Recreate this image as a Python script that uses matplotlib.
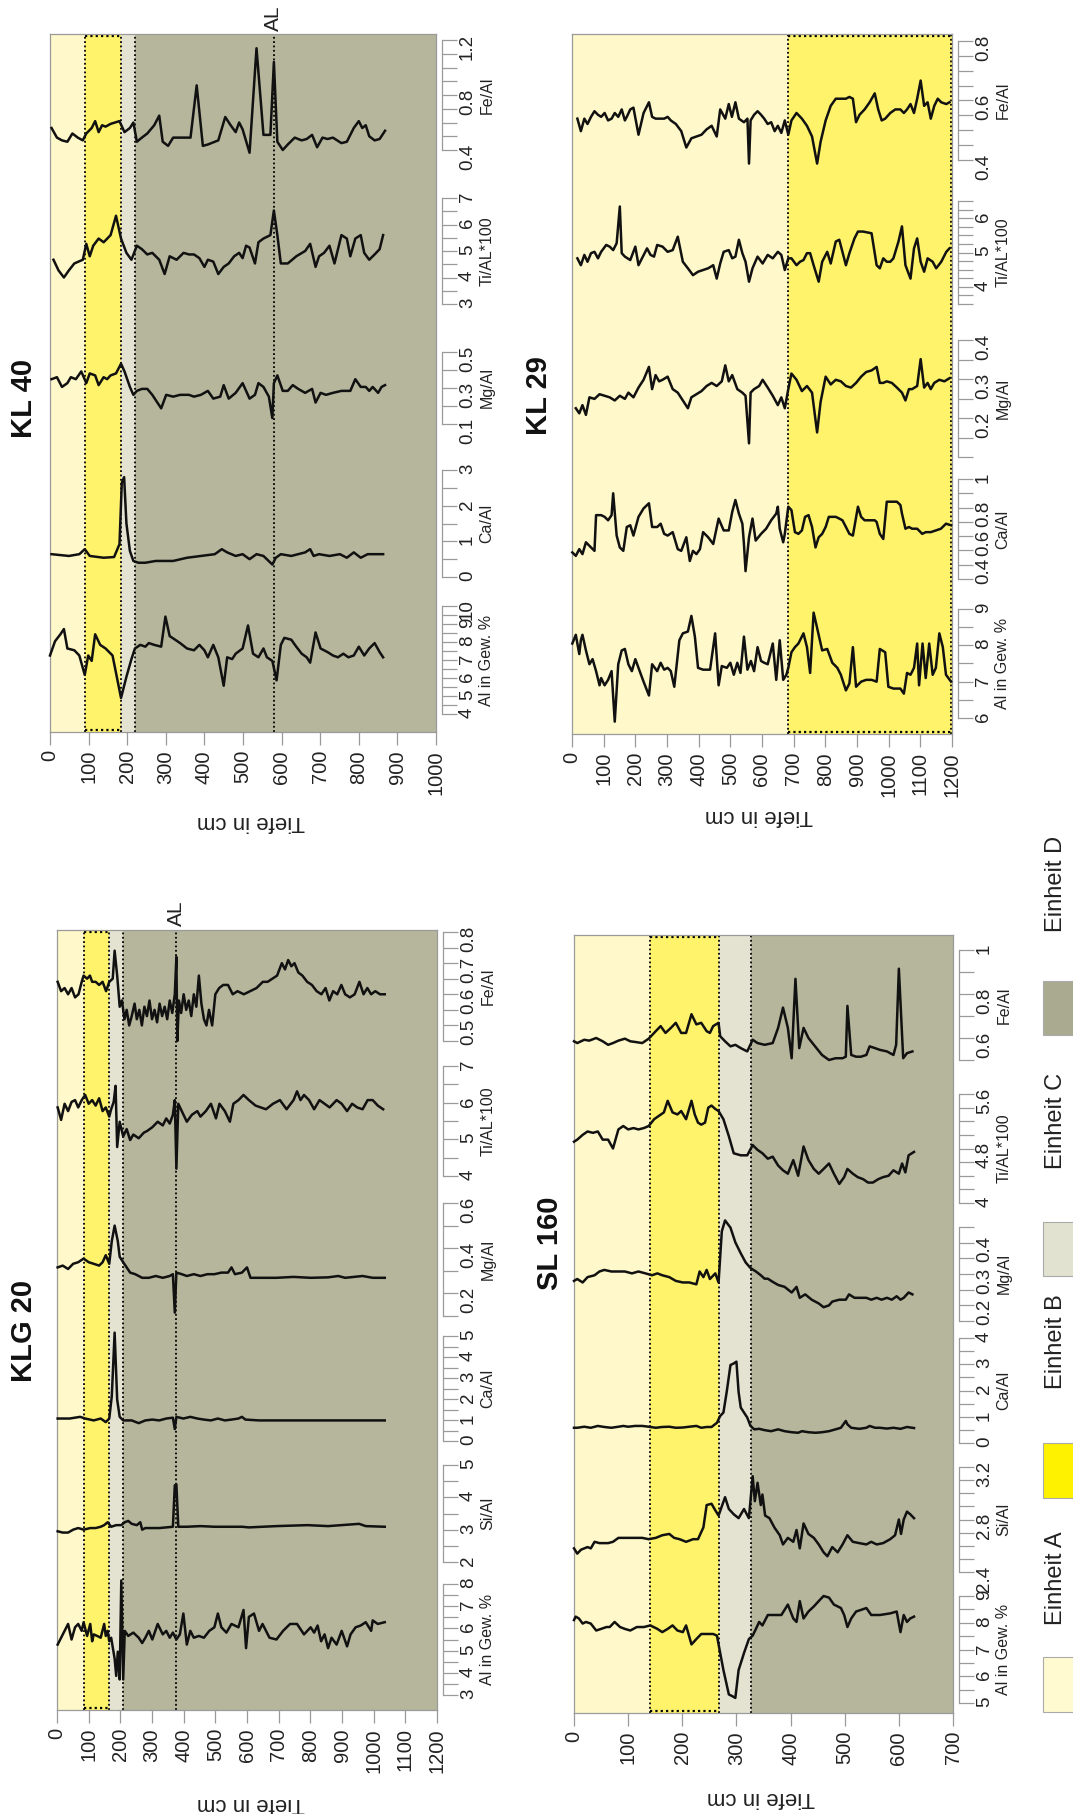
import numpy as np
import matplotlib
matplotlib.use("Agg")
import matplotlib.pyplot as plt
from matplotlib.patches import Rectangle
import matplotlib.transforms as mtransforms

plt.rcParams['font.family'] = ['Liberation Sans', 'DejaVu Sans']

# ---------------- data (depth in cm, value) ----------------
# KL 40
kl40_al = [(0,7.25),(13,8.04),(27,8.43),(36,8.72),(45,7.64),(63,7.54),(76,7.25),(90,6.17),(99,7.25),(108,6.95),
           (117,8.43),(130,7.84),(144,7.64),(162,7.25),(184,4.89),(198,6.07),(211,7.05),(220,7.64),(234,7.84),(247,7.74),
           (256,7.94),(270,7.84),(288,7.74),(299,9.41),(310,8.33),(324,8.13),(337,7.94),(355,7.64),(373,7.54),(387,7.84),
           (400,7.54),(409,7.15),(423,7.84),(436,7.15),(450,5.57),(459,7.15),(472,7.05),(481,7.35),(499,7.64),(513,8.92),
           (526,7.35),(540,7.15),(553,7.64),(562,7.15),(576,6.95),(587,5.87),(598,7.84),(607,8.23),(625,8.13),(638,7.74),
           (652,7.35),(665,7.15),(674,6.85),(688,8.53),(701,7.64),(719,7.44),(733,7.25),(746,7.15),(760,7.35),(773,7.15),
           (787,7.25),(800,7.74),(814,7.25),(827,7.64),(841,7.94),(854,7.44),(863,7.15)]
kl40_ca = [(4,0.64),(49,0.59),(76,0.64),(90,0.78),(103,0.59),(139,0.54),(166,0.56),(180,0.92),(186,2.64),(192,2.8),
           (198,1.5),(207,0.73),(216,0.45),(229,0.4),(247,0.4),(274,0.45),(319,0.45),(355,0.54),(391,0.59),(427,0.64),
           (445,0.78),(459,0.69),(481,0.59),(499,0.64),(517,0.5),(535,0.64),(553,0.59),(576,0.35),(585,0.54),(598,0.64),
           (625,0.59),(643,0.64),(661,0.69),(674,0.78),(683,0.59),(697,0.64),(724,0.59),(751,0.64),(769,0.54),(787,0.69),
           (805,0.54),(823,0.64),(841,0.64),(863,0.64)]
kl40_mg = [(4,0.349),(18,0.36),(31,0.306),(45,0.327),(54,0.36),(67,0.349),(81,0.392),(94,0.327),(103,0.381),(117,0.37),
           (126,0.316),(139,0.36),(148,0.349),(157,0.37),(171,0.381),(184,0.435),(193,0.392),(207,0.306),(216,0.262),(225,0.284),
           (238,0.295),(252,0.295),(265,0.262),(288,0.187),(301,0.262),(319,0.252),(337,0.262),(360,0.262),(373,0.252),(391,0.262),
           (409,0.284),(423,0.241),(441,0.252),(450,0.316),(463,0.241),(481,0.273),(499,0.327),(517,0.241),(531,0.262),(540,0.327),
           (553,0.306),(567,0.252),(576,0.133),(580,0.327),(589,0.37),(603,0.284),(616,0.284),(629,0.316),(643,0.295),(661,0.273),
           (679,0.295),(688,0.219),(701,0.273),(715,0.262),(733,0.273),(755,0.284),(778,0.284),(791,0.349),(805,0.306),(818,0.306),
           (827,0.284),(836,0.306),(850,0.273),(859,0.306),(868,0.316)]
kl40_ti = [(9,4.67),(22,4.27),(36,4.0),(49,4.27),(63,4.53),(85,4.67),(94,5.27),(103,4.8),(112,5.2),(126,5.47),
           (139,5.33),(157,5.6),(171,6.33),(184,5.47),(198,4.93),(211,4.67),(225,5.2),(238,5.07),(252,4.87),(265,4.93),
           (283,4.67),(297,4.13),(310,4.8),(328,4.67),(346,4.93),(360,4.87),(373,4.87),(387,4.73),(400,4.4),(409,4.67),
           (423,4.6),(436,4.13),(450,4.4),(463,4.53),(477,4.8),(490,4.93),(499,4.73),(508,5.2),(517,5.13),(531,4.53),
           (540,5.33),(553,5.47),(571,5.6),(580,6.53),(589,5.6),(598,4.53),(616,4.53),(638,4.8),(661,5.0),(674,5.27),
           (688,4.4),(697,4.8),(710,4.93),(724,5.2),(737,4.53),(755,5.6),(769,5.47),(778,4.8),(791,5.47),(805,5.6),
           (814,4.93),(827,4.67),(841,4.87),(854,5.07),(863,5.6)]
kl40_fe = [(4,0.56),(18,0.49),(31,0.47),(45,0.46),(58,0.52),(72,0.49),(85,0.47),(94,0.52),(108,0.56),(117,0.61),
           (126,0.53),(135,0.58),(144,0.57),(157,0.59),(180,0.61),(193,0.53),(207,0.56),(216,0.60),(225,0.46),(238,0.49),
           (252,0.52),(270,0.58),(283,0.65),(292,0.46),(306,0.43),(319,0.49),(364,0.49),(380,0.87),(396,0.43),(409,0.44),
           (436,0.47),(454,0.64),(468,0.58),(481,0.53),(490,0.60),(499,0.55),(517,0.38),(535,1.14),(553,0.51),(571,0.51),
           (580,1.04),(589,0.46),(603,0.40),(616,0.44),(634,0.49),(652,0.47),(665,0.48),(679,0.51),(692,0.42),(706,0.49),
           (719,0.48),(733,0.49),(755,0.45),(769,0.46),(787,0.56),(800,0.61),(809,0.56),(818,0.58),(827,0.50),(841,0.47),
           (854,0.48),(868,0.54)]

# KLG 20
klg20_al = [(2,5.27),(13,5.58),(24,5.89),(35,6.2),(46,5.5),(57,6.05),(67,6.2),(78,5.89),(84,6.28),(95,5.66),
            (105,6.2),(111,5.42),(116,5.73),(127,5.66),(138,5.58),(149,6.2),(154,5.66),(160,5.89),(165,5.42),(171,5.58),
            (182,4.64),(187,3.86),(192,4.95),(198,3.7),(203,8.16),(209,3.7),(214,5.89),(225,5.66),(241,5.81),(258,5.58),
            (269,5.34),(279,5.58),(290,5.89),(301,5.5),(318,6.2),(334,5.73),(345,5.89),(356,5.58),(366,5.81),(377,5.5),
            (388,5.73),(399,6.67),(410,5.27),(421,5.89),(432,5.58),(448,5.66),(464,5.58),(481,5.89),(497,6.05),(508,6.67),
            (519,6.05),(535,5.81),(551,6.2),(573,6.05),(589,6.83),(597,5.11),(606,6.52),(622,6.67),(638,5.89),(649,6.2),
            (671,5.58),(693,5.5),(714,5.89),(736,6.2),(758,6.2),(780,5.73),(801,6.05),(812,5.81),(823,6.13),(834,5.42),
            (845,5.73),(856,5.11),(867,5.58),(883,5.27),(899,5.89),(916,5.19),(927,5.73),(943,6.05),(959,6.13),(975,6.28),
            (992,5.89),(997,6.36),(1013,6.2),(1035,6.28)]
klg20_si = [(2,2.95),(18,2.91),(35,2.91),(51,3.0),(67,3.05),(84,3.0),(105,3.05),(122,3.05),(138,3.09),(149,3.14),
            (160,3.23),(171,3.09),(187,3.14),(203,3.14),(214,3.23),(225,3.27),(236,3.18),(252,3.14),(263,3.23),(269,3.0),
            (279,3.05),(301,3.05),(323,3.05),(345,3.07),(366,3.09),(372,4.37),(377,4.4),(383,3.09),(410,3.09),(453,3.11),
            (497,3.09),(584,3.09),(606,3.07),(693,3.11),(791,3.14),(856,3.11),(954,3.18),(975,3.11),(1035,3.09)]
klg20_ca = [(2,1.07),(40,1.07),(73,1.15),(89,1.07),(116,0.98),(138,1.07),(154,0.9),(165,1.07),(173,2.13),(182,5.16),
            (190,1.97),(198,1.15),(209,0.98),(236,0.98),(258,0.85),(279,0.98),(301,1.02),(323,0.98),(345,1.07),(366,1.11),
            (372,0.57),(377,1.15),(399,1.07),(421,1.15),(443,1.07),(464,1.02),(486,0.98),(508,1.07),(530,0.98),(551,1.02),
            (573,1.07),(584,1.15),(595,1.02),(638,0.98),(693,0.98),(801,0.98),(910,0.98),(1035,0.98)]
klg20_mg = [(2,0.315),(18,0.323),(35,0.308),(51,0.331),(67,0.338),(84,0.354),(100,0.338),(116,0.331),(133,0.323),(144,0.338),
            (154,0.369),(165,0.331),(173,0.431),(182,0.5),(192,0.431),(198,0.362),(209,0.338),(220,0.315),(231,0.292),(247,0.285),
            (269,0.269),(290,0.269),(312,0.277),(334,0.269),(356,0.277),(366,0.285),(372,0.115),(377,0.292),(394,0.285),(410,0.277),
            (432,0.285),(453,0.277),(475,0.285),(497,0.285),(519,0.292),(540,0.292),(551,0.315),(562,0.285),(584,0.292),(600,0.315),
            (611,0.269),(638,0.269),(693,0.269),(747,0.273),(801,0.269),(856,0.271),(888,0.277),(910,0.269),(965,0.277),(997,0.269),
            (1035,0.269)]
klg20_ti = [(2,5.87),(13,5.53),(24,5.97),(35,5.77),(46,6.02),(57,6.07),(67,5.87),(78,6.07),(89,6.21),(100,5.97),
            (111,6.07),(122,5.92),(133,6.12),(144,5.77),(154,5.87),(165,5.62),(171,5.82),(179,6.02),(185,6.46),(190,4.79),
            (198,5.48),(209,5.08),(220,5.28),(231,4.98),(241,5.13),(258,5.03),(274,5.18),(285,5.23),(301,5.33),(318,5.48),
            (334,5.38),(345,5.57),(356,5.43),(366,5.67),(372,6.07),(377,4.2),(383,5.97),(394,5.77),(410,5.48),(426,5.67),
            (443,5.77),(453,5.62),(470,5.77),(486,5.97),(502,5.57),(513,5.97),(530,5.77),(546,5.48),(557,5.97),(573,6.07),
            (589,6.21),(606,6.07),(627,5.92),(660,5.82),(682,5.97),(704,6.07),(725,5.82),(747,6.07),(758,6.31),(769,6.07),
            (780,6.21),(796,6.07),(812,5.82),(829,6.07),(845,5.97),(861,5.87),(883,6.07),(899,5.97),(916,5.77),(932,5.97),
            (948,5.87),(965,5.82),(981,6.07),(997,6.07),(1013,5.92),(1030,5.82)]
klg20_fe = [(2,0.64),(13,0.61),(24,0.62),(35,0.6),(46,0.62),(57,0.59),(68,0.6),(78,0.64),(84,0.66),(95,0.65),
            (104,0.66),(111,0.64),(122,0.64),(133,0.63),(144,0.64),(155,0.61),(165,0.64),(176,0.65),(182,0.74),(190,0.66),
            (198,0.56),(205,0.58),(213,0.52),(220,0.55),(228,0.5),(236,0.53),(245,0.57),(252,0.52),(260,0.55),(268,0.5),
            (276,0.56),(284,0.53),(292,0.58),(300,0.52),(308,0.55),(316,0.51),(324,0.57),(332,0.53),(340,0.56),(348,0.52),
            (356,0.58),(364,0.54),(372,0.6),(377,0.72),(380,0.45),(385,0.58),(392,0.54),(400,0.6),(408,0.55),(416,0.58),
            (424,0.53),(432,0.6),(440,0.56),(448,0.66),(456,0.57),(464,0.52),(472,0.5),(480,0.55),(490,0.5),(500,0.6),
            (512,0.62),(525,0.63),(540,0.63),(555,0.6),(570,0.61),(590,0.6),(610,0.61),(630,0.62),(650,0.64),(665,0.64),
            (680,0.65),(695,0.66),(710,0.7),(720,0.68),(730,0.71),(740,0.69),(750,0.7),(762,0.67),(775,0.66),(790,0.64),
            (805,0.63),(820,0.61),(835,0.6),(848,0.62),(860,0.58),(872,0.61),(885,0.6),(898,0.63),(910,0.6),(925,0.59),
            (940,0.6),(955,0.64),(968,0.6),(980,0.62),(992,0.6),(1005,0.61),(1020,0.6),(1035,0.6)]

# KL 29
kl29_al = [(1,8.05),(12,8.29),(23,7.76),(28,8.14),(33,8.29),(44,7.86),(55,7.48),(65,7.62),(76,7.29),(87,6.9),
           (92,7.1),(103,6.9),(114,7.05),(125,7.29),(135,5.9),(146,7.48),(157,7.86),(167,7.9),(178,7.48),(189,7.29),
           (200,7.62),(210,7.38),(226,7.0),(243,6.62),(253,7.48),(269,7.29),(280,7.52),(291,7.33),(302,7.38),(312,7.29),
           (323,6.86),(339,8.14),(350,8.33),(366,8.38),(377,8.81),(388,8.24),(398,7.38),(414,7.33),(436,7.33),(452,8.33),
           (463,6.9),(473,7.43),(489,7.38),(500,7.52),(511,7.19),(522,7.52),(532,7.24),(543,8.24),(554,7.33),(565,7.57),
           (575,7.29),(586,7.95),(597,7.57),(607,7.52),(618,7.48),(634,8.05),(645,7.05),(656,8.14),(667,7.05),(677,7.19),
           (683,7.38),(693,7.81),(704,7.95),(715,8.05),(731,8.33),(742,7.95),(752,7.24),(763,8.9),(774,8.48),(790,7.86),
           (806,7.9),(822,7.52),(838,7.38),(849,7.19),(865,6.76),(876,6.95),(887,7.95),(897,6.86),(913,7.0),(929,7.05),
           (946,7.05),(962,7.0),(972,7.9),(989,7.81),(999,6.86),(1015,6.81),(1037,6.81),(1048,6.67),(1058,7.24),(1069,7.19),
           (1080,7.38),(1090,8.05),(1096,6.9),(1107,8.05),(1117,7.1),(1128,8.05),(1139,7.19),(1149,7.38),(1160,8.33),(1171,7.95),
           (1181,7.19),(1197,7.0)]
kl29_ca = [(1,0.486),(12,0.462),(23,0.509),(33,0.474),(44,0.557),(60,0.521),(71,0.497),(76,0.747),(92,0.747),(103,0.735),
           (114,0.711),(125,0.747),(130,0.9),(141,0.604),(151,0.521),(162,0.497),(173,0.664),(184,0.676),(194,0.604),(210,0.735),
           (226,0.794),(243,0.83),(253,0.664),(269,0.664),(280,0.687),(291,0.616),(302,0.604),(318,0.628),(334,0.509),(345,0.497),
           (361,0.592),(372,0.426),(382,0.497),(393,0.474),(404,0.509),(414,0.628),(430,0.592),(446,0.545),(463,0.723),(479,0.64),
           (495,0.64),(506,0.77),(516,0.853),(527,0.758),(538,0.687),(543,0.545),(548,0.355),(559,0.592),(570,0.723),(580,0.569),
           (597,0.616),(613,0.652),(629,0.711),(645,0.758),(650,0.806),(656,0.652),(667,0.557),(672,0.616),(683,0.806),(693,0.782),
           (704,0.628),(715,0.616),(726,0.64),(736,0.735),(747,0.747),(758,0.664),(769,0.521),(779,0.592),(790,0.616),(801,0.664),
           (811,0.735),(822,0.735),(833,0.735),(844,0.723),(854,0.711),(865,0.664),(876,0.616),(887,0.604),(903,0.806),(913,0.735),
           (924,0.711),(940,0.711),(956,0.711),(962,0.699),(972,0.616),(983,0.58),(994,0.841),(1010,0.841),(1026,0.841),(1037,0.818),
           (1042,0.758),(1053,0.652),(1064,0.664),(1074,0.652),(1090,0.652),(1106,0.616),(1117,0.628),(1133,0.628),(1149,0.64),(1165,0.652),
           (1181,0.687),(1197,0.676)]
kl29_mg = [(12,0.225),(23,0.212),(33,0.233),(44,0.208),(55,0.253),(71,0.249),(87,0.261),(103,0.257),(119,0.253),(135,0.245),
           (151,0.257),(167,0.249),(178,0.265),(194,0.253),(210,0.278),(226,0.298),(243,0.331),(253,0.274),(264,0.31),(275,0.294),
           (286,0.298),(302,0.306),(318,0.274),(334,0.265),(350,0.245),(366,0.225),(377,0.253),(393,0.261),(409,0.269),(425,0.282),
           (441,0.29),(457,0.282),(473,0.294),(484,0.335),(495,0.294),(506,0.31),(522,0.274),(538,0.265),(548,0.257),(559,0.135),
           (564,0.265),(575,0.274),(591,0.282),(602,0.298),(618,0.278),(634,0.257),(650,0.233),(661,0.253),(672,0.225),(683,0.274),
           (693,0.314),(709,0.298),(726,0.269),(742,0.282),(758,0.265),(774,0.163),(785,0.241),(801,0.306),(817,0.286),(833,0.298),
           (849,0.294),(865,0.282),(881,0.278),(897,0.29),(913,0.306),(929,0.318),(946,0.322),(962,0.331),(972,0.29),(983,0.29),
           (994,0.294),(1010,0.29),(1026,0.278),(1042,0.265),(1053,0.245),(1064,0.274),(1074,0.274),(1090,0.282),(1101,0.351),(1112,0.278),
           (1123,0.29),(1133,0.274),(1144,0.29),(1160,0.298),(1176,0.294),(1192,0.302)]
kl29_ti = [(17,4.83),(28,4.63),(39,4.93),(49,4.73),(60,4.98),(71,5.02),(82,4.83),(92,5.02),(108,5.22),(119,5.17),
           (130,5.07),(141,5.27),(151,6.34),(157,4.98),(167,4.88),(184,4.78),(200,5.17),(210,4.63),(221,4.83),(237,5.12),
           (248,4.93),(259,4.88),(269,5.22),(286,5.17),(302,5.02),(318,5.07),(334,5.46),(350,4.73),(366,4.54),(382,4.34),
           (398,4.44),(414,4.49),(430,4.54),(446,4.63),(457,4.24),(468,4.68),(479,5.02),(495,5.07),(506,4.83),(516,4.88),
           (527,5.37),(538,4.98),(548,4.73),(559,4.15),(570,4.54),(586,4.88),(602,4.68),(618,4.93),(634,4.83),(650,5.02),
           (661,4.93),(672,4.49),(683,4.83),(693,4.83),(709,4.63),(720,4.73),(731,4.78),(742,4.98),(752,4.98),(763,4.63),
           (779,4.15),(790,4.73),(806,5.02),(817,4.68),(833,5.32),(844,5.37),(854,5.02),(865,4.63),(876,4.98),(892,5.41),
           (903,5.61),(919,5.61),(946,5.56),(962,4.63),(972,4.54),(983,4.83),(994,4.73),(1005,4.73),(1015,4.83),(1031,5.32),
           (1042,5.76),(1053,4.63),(1069,4.24),(1080,5.12),(1090,5.41),(1101,4.73),(1112,4.44),(1123,4.83),(1139,4.73),(1150,4.54),
           (1166,4.73),(1182,5.02),(1192,5.12)]
kl29_fe = [(17,0.539),(28,0.497),(39,0.539),(49,0.521),(60,0.545),(71,0.564),(82,0.552),(92,0.545),(103,0.558),(114,0.533),
           (125,0.539),(135,0.558),(146,0.545),(157,0.570),(167,0.533),(173,0.545),(184,0.570),(194,0.576),(210,0.485),(226,0.558),
           (243,0.594),(253,0.545),(264,0.539),(275,0.539),(291,0.539),(302,0.545),(312,0.533),(328,0.521),(345,0.497),(361,0.442),
           (377,0.473),(393,0.479),(409,0.485),(425,0.503),(441,0.515),(457,0.479),(468,0.570),(484,0.539),(495,0.588),(505,0.545),
           (516,0.594),(527,0.539),(543,0.527),(554,0.539),(559,0.388),(564,0.533),(575,0.552),(586,0.564),(597,0.552),(607,0.539),
           (618,0.521),(629,0.527),(640,0.497),(650,0.515),(661,0.491),(672,0.533),(683,0.485),(693,0.533),(709,0.558),(726,0.539),
           (742,0.515),(758,0.479),(774,0.388),(785,0.461),(801,0.533),(817,0.582),(833,0.606),(849,0.606),(865,0.606),(876,0.612),
           (887,0.606),(897,0.527),(908,0.552),(924,0.570),(940,0.594),(956,0.624),(967,0.570),(978,0.533),(989,0.539),(1005,0.558),
           (1021,0.570),(1037,0.570),(1048,0.558),(1058,0.570),(1069,0.588),(1080,0.558),(1090,0.606),(1101,0.667),(1112,0.582),(1123,0.594),
           (1133,0.539),(1144,0.582),(1155,0.606),(1166,0.594),(1182,0.588),(1192,0.594)]

# SL 160
sl160_al = [(0,8.1),(3,8.23),(9,8.16),(16,7.97),(22,8.03),(31,7.97),(41,7.71),(50,7.77),(60,7.84),(66,7.84),
            (75,8.03),(85,7.84),(94,7.77),(104,7.71),(116,7.84),(129,7.84),(141,7.9),(154,7.77),(163,7.65),(173,7.77),
            (182,7.9),(191,7.71),(201,7.65),(207,7.9),(217,7.19),(226,7.39),(235,7.58),(245,7.58),(257,7.58),(264,7.52),
            (270,6.87),(276,6.23),(286,5.32),(292,5.26),(298,5.19),(304,6.23),(314,6.87),(323,7.39),(330,7.52),(336,7.77),
            (342,8.03),(348,7.9),(358,8.29),(370,8.29),(383,8.29),(395,8.68),(405,8.16),(411,8.03),(417,8.81),(424,8.16),
            (433,8.42),(443,8.61),(452,8.81),(461,9.0),(471,8.94),(480,8.68),(493,8.55),(499,8.29),(505,7.84),(512,8.16),
            (521,8.42),(530,8.48),(540,8.55),(549,8.29),(565,8.29),(584,8.35),(596,8.42),(603,7.65),(609,8.29),(615,8.03),
            (621,8.16),(628,8.23)]
sl160_si = [(0,2.58),(6,2.54),(13,2.57),(19,2.58),(25,2.59),(31,2.58),(38,2.63),(47,2.62),(56,2.62),(63,2.62),
            (72,2.63),(82,2.66),(91,2.66),(100,2.66),(113,2.66),(126,2.66),(138,2.65),(151,2.66),(163,2.68),(176,2.69),
            (185,2.66),(195,2.65),(207,2.63),(220,2.65),(229,2.65),(239,2.74),(245,2.91),(254,2.92),(261,2.87),(267,2.83),
            (273,2.9),(279,2.97),(286,2.88),(295,2.84),(304,2.81),(314,2.88),(323,2.81),(330,3.13),(334,2.94),(339,3.08),
            (345,2.91),(348,2.99),(353,2.83),(361,2.81),(370,2.74),(380,2.68),(386,2.61),(395,2.66),(405,2.63),(411,2.72),
            (417,2.58),(424,2.77),(433,2.69),(443,2.66),(452,2.61),(461,2.55),(468,2.52),(477,2.59),(487,2.55),(496,2.61),
            (505,2.68),(515,2.63),(527,2.62),(540,2.61),(549,2.63),(559,2.61),(571,2.62),(584,2.65),(593,2.68),(600,2.8),
            (604,2.69),(609,2.8),(615,2.86),(621,2.84),(628,2.81)]
sl160_ca = [(0,0.58),(6,0.58),(19,0.62),(31,0.58),(44,0.65),(56,0.61),(69,0.58),(82,0.62),(91,0.65),(100,0.62),
            (113,0.65),(126,0.65),(138,0.62),(151,0.58),(163,0.61),(176,0.62),(188,0.58),(201,0.59),(213,0.62),(226,0.65),
            (235,0.58),(245,0.61),(254,0.61),(264,0.77),(270,1.03),(276,1.16),(282,1.94),(289,2.97),(295,3.03),(300,3.1),
            (304,1.94),(308,1.35),(314,1.16),(320,0.97),(326,0.65),(333,0.52),(342,0.54),(352,0.49),(364,0.45),(377,0.52),
            (389,0.45),(402,0.41),(414,0.39),(421,0.45),(433,0.41),(446,0.39),(458,0.41),(471,0.45),(483,0.52),(493,0.58),
            (502,0.84),(505,0.71),(512,0.58),(527,0.54),(540,0.58),(546,0.65),(556,0.58),(565,0.58),(578,0.55),(590,0.58),
            (603,0.54),(615,0.61),(628,0.57)]
sl160_mg = [(0,0.278),(6,0.284),(16,0.273),(25,0.29),(38,0.296),(47,0.308),(56,0.313),(69,0.308),(82,0.308),(94,0.308),
            (107,0.302),(119,0.308),(132,0.302),(144,0.296),(154,0.302),(163,0.296),(176,0.29),(188,0.278),(201,0.273),(213,0.273),
            (226,0.267),(232,0.308),(239,0.29),(245,0.313),(251,0.284),(261,0.302),(267,0.273),(273,0.436),(279,0.471),(289,0.448),
            (298,0.401),(308,0.366),(317,0.337),(326,0.319),(336,0.308),(345,0.296),(352,0.285),(358,0.285),(367,0.275),(377,0.265),
            (389,0.259),(402,0.241),(411,0.259),(417,0.224),(427,0.235),(439,0.218),(452,0.206),(461,0.194),(471,0.2),(477,0.212),
            (490,0.218),(502,0.218),(508,0.235),(518,0.224),(527,0.224),(540,0.224),(549,0.218),(559,0.224),(568,0.218),(578,0.224),
            (587,0.218),(596,0.229),(603,0.218),(609,0.224),(618,0.241),(625,0.235)]
sl160_ti = [(0,4.9),(6,4.93),(16,5.0),(25,5.05),(35,5.03),(44,5.05),(53,4.93),(63,4.93),(72,4.8),(82,5.08),
            (91,5.13),(100,5.08),(110,5.1),(119,5.08),(129,5.1),(138,5.13),(148,5.23),(157,5.28),(166,5.33),(173,5.5),
            (182,5.33),(191,5.3),(198,5.35),(207,5.23),(217,5.5),(223,5.3),(229,5.18),(235,5.15),(242,5.18),(248,5.4),
            (254,5.43),(261,5.38),(267,5.35),(276,5.23),(286,4.98),(295,4.73),(308,4.7),(320,4.7),(330,4.85),(339,4.78),
            (348,4.73),(358,4.65),(367,4.68),(377,4.55),(386,4.48),(395,4.43),(405,4.63),(414,4.4),(424,4.83),(433,4.63),
            (443,4.5),(452,4.43),(461,4.5),(471,4.58),(480,4.43),(490,4.28),(499,4.38),(505,4.5),(515,4.43),(524,4.38),
            (534,4.35),(543,4.3),(552,4.3),(562,4.35),(571,4.38),(581,4.4),(590,4.48),(600,4.43),(606,4.58),(612,4.45),
            (618,4.7),(628,4.75)]
sl160_fe = [(0,0.585),(6,0.577),(19,0.592),(28,0.588),(41,0.6),(53,0.585),(63,0.569),(72,0.577),(82,0.588),(94,0.597),
            (104,0.585),(113,0.582),(126,0.577),(138,0.597),(151,0.631),(160,0.654),(169,0.623),(179,0.646),(188,0.669),(198,0.623),
            (207,0.623),(217,0.708),(226,0.662),(235,0.669),(245,0.631),(251,0.623),(257,0.654),(267,0.669),(270,0.608),(279,0.585),
            (289,0.562),(298,0.569),(308,0.554),(320,0.539),(330,0.592),(339,0.577),(352,0.569),(367,0.577),(377,0.646),(386,0.738),
            (395,0.646),(402,0.508),(409,0.869),(416,0.554),(424,0.646),(433,0.6),(443,0.569),(458,0.523),(471,0.5),(483,0.508),
            (496,0.508),(502,0.515),(505,0.746),(512,0.523),(521,0.515),(530,0.515),(540,0.523),(546,0.562),(556,0.554),(565,0.546),
            (578,0.539),(590,0.523),(595,0.569),(600,0.915),(608,0.508),(615,0.531),(625,0.539)]

# unit boundaries (cm) and "AL" marker
kl40_units = [0, 90, 184, 220, 1000]
klg20_units = [0, 84, 165, 209, 1200]
kl29_units = [0, 683, 1200]
sl160_units = [0, 141, 268, 326, 700]
kl40_al_line = 580
klg20_al_line = 377

unit_names = ['Einheit A', 'Einheit B', 'Einheit C', 'Einheit D']
unit_colors = ['#FFF8CA', '#FFF36C', '#E4E3D2', '#B5B69C']
legend_colors = ['#FFFACF', '#FFF200', '#E2E2D0', '#A9AA8F']

# ---------------- figure ----------------
W, H = 1073, 1814
fig = plt.figure(figsize=(W / 100, H / 100), dpi=100)
GRAY = '#9A9A9A'
TXT = '#222222'
DOT = (0, (1, 1.4))


def fbox(x0, x1, ytop, ybot):
    return [x0 / W, 1 - ybot / H, (x1 - x0) / W, (ybot - ytop) / H]


def panel(title, box, dmax, bounds, tracks, al=None, title_xy=None, xlab_xy=None):
    x0, x1, ytop, ybot = box
    bg = fig.add_axes(fbox(x0, x1, ytop, ybot))
    bg.set_xlim(0, dmax)
    bg.set_ylim(0, 1)
    for i in range(len(bounds) - 1):
        bg.axvspan(bounds[i], bounds[i + 1], color=unit_colors[i], lw=0)
    # dotted unit borders
    for b in bounds[1:-1]:
        bg.axvline(b, color='black', ls=DOT, lw=1.3)
    bg.hlines([0.003, 0.997], bounds[1], bounds[2], color='black', ls=DOT, lw=1.6)
    if bounds[2] == dmax:
        bg.axvline(dmax - 2, color='black', ls=DOT, lw=1.3)
    if al is not None:
        bg.axvline(al, color='black', ls=DOT, lw=1.3)
        trans = mtransforms.blended_transform_factory(bg.transData, bg.transAxes)
        bg.text(al, 1.005, 'AL', transform=trans, rotation=90, ha='center', va='bottom',
                fontsize=15, color=TXT)
    for s in bg.spines.values():
        s.set_color(GRAY)
        s.set_linewidth(0.9)
    bg.set_yticks([])
    bg.set_xticks(np.arange(0, dmax + 1, 100))
    bg.tick_params(axis='x', direction='out', length=9, width=0.9, color=GRAY,
                   labelsize=14.5, labelrotation=90, pad=4, labelcolor=TXT)

    for name, data, yt, yb, hi, lo, step, labels in tracks:
        ax = fig.add_axes(fbox(x0, x1, yt, yb))
        ax.patch.set_visible(False)
        ax.set_xlim(0, dmax)
        ax.set_ylim(lo, hi)
        for s in ['top', 'bottom', 'left']:
            ax.spines[s].set_visible(False)
        ax.spines['right'].set_position(('outward', 4))
        ax.spines['right'].set_color(GRAY)
        ax.spines['right'].set_linewidth(0.9)
        ax.set_xticks([])
        ticks = np.arange(lo, hi + step / 2, step)
        ax.yaxis.tick_right()
        ax.set_yticks(ticks)
        ax.set_yticklabels([labels.get(round(t, 3), '') for t in ticks])
        ax.tick_params(axis='y', direction='out', length=11, width=0.9, color=GRAY,
                       labelsize=13.5, labelrotation=90, pad=1.5, labelcolor=TXT)
        ax.yaxis.set_label_position('right')
        ax.set_ylabel(name, rotation=90, fontsize=11.5, labelpad=2.5, color=TXT)
        d, v = zip(*data)
        ax.plot(d, v, color='#111111', lw=1.8, clip_on=False)

    fig.text(title_xy[0] / W, 1 - title_xy[1] / H, title, rotation=90, ha='center', va='center',
             fontsize=21, fontweight='bold', color='#111111')
    fig.text(xlab_xy[0] / W, 1 - xlab_xy[1] / H, 'Tiefe in cm', rotation=180, ha='center',
             va='center', fontsize=16, color=TXT)


def lab(vals, txt):
    return {round(a, 3): b for a, b in zip(vals, txt)}


panel('KL 40', (50, 436, 34, 732), 1000, kl40_units, [
    ('Fe/Al', kl40_fe, 40, 150, 1.2, 0.4, 0.1, lab([0.4, 0.8, 1.2], ['0.4', '0.8', '1.2'])),
    ('Ti/AL*100', kl40_ti, 198, 304, 7, 3, 0.5, lab([3, 4, 5, 6, 7], ['3', '4', '5', '6', '7'])),
    ('Mg/Al', kl40_mg, 352, 424, 0.5, 0.1, 0.1, lab([0.1, 0.3, 0.5], ['0.1', '0.3', '0.5'])),
    ('Ca/Al', kl40_ca, 470, 577, 3, 0, 0.5, lab([0, 1, 2, 3], ['0', '1', '2', '3'])),
    ('Al in Gew. %', kl40_al, 606, 714, 10, 4, 0.5,
     lab([4, 5, 6, 7, 8, 9, 10], ['4', '5', '6', '7', '8', '9', '10'])),
], al=kl40_al_line, title_xy=(24, 398), xlab_xy=(251, 822))

panel('KLG 20', (57, 437, 930, 1710), 1200, klg20_units, [
    ('Fe/Al', klg20_fe, 932, 1041, 0.8, 0.45, 0.05, lab([0.5, 0.6, 0.7, 0.8], ['0.5', '0.6', '0.7', '0.8'])),
    ('Ti/AL*100', klg20_ti, 1066, 1176, 7, 4, 0.5, lab([4, 5, 6, 7], ['4', '5', '6', '7'])),
    ('Mg/Al', klg20_mg, 1203, 1316, 0.6, 0.1, 0.1, lab([0.2, 0.4, 0.6], ['0.2', '0.4', '0.6'])),
    ('Ca/Al', klg20_ca, 1336, 1441, 5, 0, 0.5, lab([0, 1, 2, 3, 4, 5], ['0', '1', '2', '3', '4', '5'])),
    ('Si/Al', klg20_si, 1465, 1562, 5, 2, 0.5, lab([2, 3, 4, 5], ['2', '3', '4', '5'])),
    ('Al in Gew. %', klg20_al, 1584, 1695, 8, 3, 0.5,
     lab([3, 4, 5, 6, 7, 8], ['3', '4', '5', '6', '7', '8'])),
], al=klg20_al_line, title_xy=(24, 1331), xlab_xy=(251, 1803))

panel('KL 29', (572, 952, 34, 734), 1200, kl29_units, [
    ('Fe/Al', kl29_fe, 41, 160, 0.8, 0.4, 0.05, lab([0.4, 0.6, 0.8], ['0.4', '0.6', '0.8'])),
    ('Ti/AL*100', kl29_ti, 201, 304, 6.5, 3.5, 0.25, lab([4, 5, 6], ['4', '5', '6'])),
    ('Mg/Al', kl29_mg, 340, 457, 0.4, 0.1, 0.05, lab([0.2, 0.3, 0.4], ['0.2', '0.3', '0.4'])),
    ('Ca/Al', kl29_ca, 479, 579, 1.0, 0.3, 0.1, lab([0.4, 0.6, 0.8, 1.0], ['0.4', '0.6', '0.8', '1'])),
    ('Al in Gew. %', kl29_al, 609, 718, 9, 6, 0.5, lab([6, 7, 8, 9], ['6', '7', '8', '9'])),
], title_xy=(539, 396), xlab_xy=(759, 816))

panel('SL 160', (574, 953, 935, 1713), 700, sl160_units, [
    ('Fe/Al', sl160_fe, 950, 1060, 1.0, 0.5, 0.1, lab([0.6, 0.8, 1.0], ['0.6', '0.8', '1'])),
    ('Ti/AL*100', sl160_ti, 1094, 1203, 5.6, 4.0, 0.2, lab([4.0, 4.8, 5.6], ['4', '4.8', '5.6'])),
    ('Mg/Al', sl160_mg, 1227, 1321, 0.45, 0.15, 0.05, lab([0.2, 0.3, 0.4], ['0.2', '0.3', '0.4'])),
    ('Ca/Al', sl160_ca, 1338, 1443, 4, 0, 0.5, lab([0, 1, 2, 3, 4], ['0', '1', '2', '3', '4'])),
    ('Si/Al', sl160_si, 1467, 1572, 3.2, 2.4, 0.1, lab([2.4, 2.8, 3.2], ['2.4', '2.8', '3.2'])),
    ('Al in Gew. %', sl160_al, 1596, 1703, 9, 5, 0.5, lab([5, 6, 7, 8, 9], ['5', '6', '7', '8', '9'])),
], title_xy=(550, 1243), xlab_xy=(761, 1798))

# legend (boxes and rotated labels, bottom -> top)
box_y = [(1657, 1712), (1443, 1498), (1222, 1276), (981, 1035)]
text_y = [1578, 1342, 1121, 884]
for name, col, (yt, yb), ty in zip(unit_names, legend_colors, box_y, text_y):
    fig.add_artist(Rectangle((1043 / W, 1 - yb / H), 40 / W, (yb - yt) / H,
                             transform=fig.transFigure, facecolor=col, edgecolor='#AAAAAA', lw=0.8))
    fig.text(1056 / W, 1 - ty / H, name, rotation=90, ha='center', va='center',
             fontsize=17, color=TXT)

fig.savefig('out.png', dpi=100)
